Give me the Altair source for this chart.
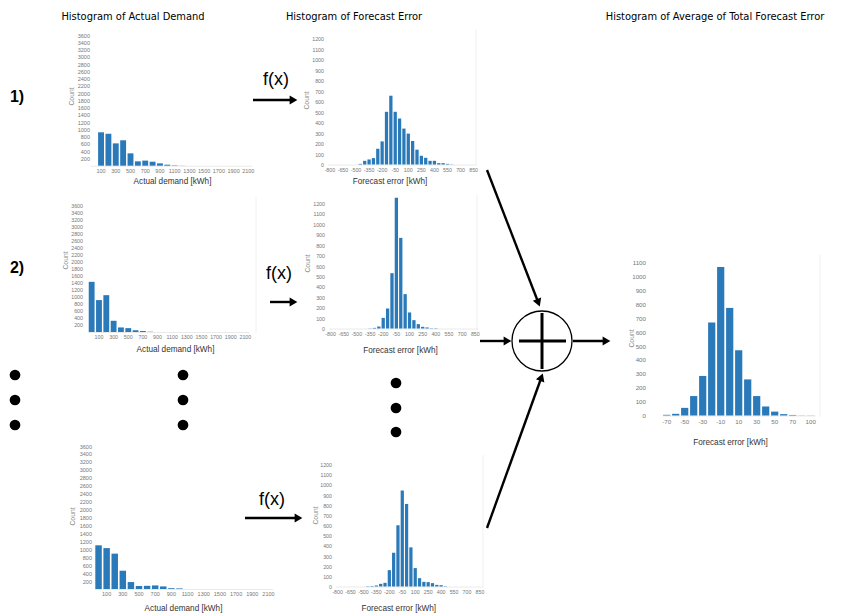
import math
import altair as alt
import pandas as pd

W, H, M = 825, 607, 8  # chart size and page margin

# ---------------- data ----------------
demand_bins = [0, 100, 200, 300, 400, 500, 600, 700, 800, 900, 1000,
               1100, 1200, 1300, 1400, 1500, 1600, 1700, 1800, 1900, 2000, 2100]
demand_row1 = [0, 920, 880, 615, 700, 340, 120, 140, 110, 64, 28,
               10, 3, 0, 0, 0, 0, 0, 0, 0, 0, 0]
demand_row2 = [1430, 910, 1050, 320, 130, 110, 50, 30, 10, 0, 0,
               0, 0, 0, 0, 0, 0, 0, 0, 0, 0, 0]
demand_row4 = [1100, 1030, 890, 460, 175, 75, 80, 90, 65, 20, 15,
               0, 0, 0, 0, 0, 0, 0, 0, 0, 0, 0]
demand_ticks_y = [200, 400, 600, 800, 1000, 1200, 1400, 1600, 1800, 2000,
                  2200, 2400, 2600, 2800, 3000, 3200, 3400, 3600]
demand_ticks_x = [100, 300, 500, 700, 900, 1100, 1300, 1500, 1700, 1900, 2100]

error_bins = [-800, -750, -700, -650, -600, -550, -500, -450, -400, -350, -300,
              -250, -200, -150, -100, -50, 0, 50, 100, 150, 200, 250, 300, 350,
              400, 450, 500, 550, 600, 650, 700, 750, 800, 850]
error_row1 = [0, 0, 0, 0, 0, 0, 0, 6, 35, 48, 61,
              150, 220, 502, 655, 502, 438, 342, 294, 224, 141, 83, 64, 35,
              35, 13, 13, 6, 2, 0, 0, 0, 0, 0]
error_row2 = [0, 0, 0, 0, 0, 0, 0, 0, 0, 2, 6,
              19, 102, 192, 531, 1255, 870, 330, 154, 80, 42, 16, 10, 3,
              3, 0, 0, 0, 0, 0, 0, 0, 0, 0]
error_row4 = [0, 0, 0, 0, 0, 0, 0, 3, 5, 10, 26,
              36, 161, 332, 602, 944, 812, 385, 181, 82, 46, 43, 33, 16,
              13, 3, 0, 0, 0, 0, 0, 0, 0, 0]
error_ticks_y = [0, 100, 200, 300, 400, 500, 600, 700, 800, 900, 1000, 1100, 1200]
error_ticks_x = [-800, -650, -500, -350, -200, -50, 100, 250, 400, 550, 700, 850]

total_bins = [-70, -60, -50, -40, -30, -20, -10, 0, 10, 20, 30, 40, 50, 60, 70, 80, 100]
total_vals = [5, 12, 55, 140, 285, 670, 1070, 775, 470, 260, 140, 65, 28, 10, 4, 1, 1]
total_ticks_y = [0, 100, 200, 300, 400, 500, 600, 700, 800, 900, 1000, 1100]
total_ticks_x = [-70, -50, -30, -10, 10, 30, 50, 70, 100]

column_titles = ["Histogram of Actual Demand", "Histogram of Forecast Error",
                 "Histogram of Average of Total Forecast Error"]
row_labels = ["1)", "2)"]
func_label = "f(x)"

# ---------------- layout (page pixel coordinates) ----------------
BAR = "#2a79b9"
LABEL_FONT = "Liberation Sans"
TITLE_FONT = "Liberation Sans Narrow, DejaVu Sans Condensed, Liberation Sans"

panels = [
    dict(cats=demand_bins, vals=demand_row1, xr=(90, 252), base=165.7, top=35, ymax=3600,
         yaxis=91, yt=demand_ticks_y, xt=demand_ticks_x, xtitle="Actual demand [kWh]",
         xtp=(172, 181.5), ytp=(71, 96), pad=0.2, lfs=5.5),
    dict(cats=demand_bins, vals=demand_row2, xr=(88, 249), base=332, top=205.7, ymax=3600,
         yaxis=84, yt=demand_ticks_y, xt=demand_ticks_x, xtitle="Actual demand [kWh]",
         xtp=(175, 349.5), ytp=(65, 260), pad=0.2, lfs=5.3),
    dict(cats=demand_bins, vals=demand_row4, xr=(94.5, 272.5), base=589, top=446, ymax=3600,
         yaxis=93, yt=demand_ticks_y, xt=demand_ticks_x, xtitle="Actual demand [kWh]",
         xtp=(183, 608), ytp=(72, 516), pad=0.2, lfs=5.5),
    dict(cats=error_bins, vals=error_row1, xr=(327.8, 475.7), base=164.5, top=38.5, ymax=1200,
         yaxis=325, yt=error_ticks_y, xt=error_ticks_x, xtitle="Forecast error [kWh]",
         xtp=(389.5, 181.7), ytp=(306.7, 100), pad=0.25, lfs=5.3),
    dict(cats=error_bins, vals=error_row2, xr=(328.5, 477.4), base=328.5, top=203.5, ymax=1200,
         yaxis=326, yt=error_ticks_y, xt=error_ticks_x, xtitle="Forecast error [kWh]",
         xtp=(400, 350), ytp=(307.3, 263), pad=0.25, lfs=5.3),
    dict(cats=error_bins, vals=error_row4, xr=(335.5, 482.0), base=586.5, top=464.5, ymax=1200,
         yaxis=333, yt=error_ticks_y, xt=error_ticks_x, xtitle="Forecast error [kWh]",
         xtp=(398.3, 608), ytp=(315, 515), pad=0.25, lfs=5.3),
    dict(cats=total_bins, vals=total_vals, xr=(662.2, 815.2), base=415.5, top=262.8, ymax=1100,
         yaxis=647, yt=total_ticks_y, xt=total_ticks_x, xtitle="Forecast error [kWh]",
         xtp=(730, 442.7), ytp=(631.7, 338), pad=0.2, lfs=6.2),
]


def hist_layer(p):
    df = pd.DataFrame({"bin": p["cats"], "count": p["vals"]})
    x0, x1 = p["xr"]
    xaxis = alt.Axis(
        orient="bottom", offset=p["base"] - M - H, values=p["xt"], ticks=False, tickSize=0,
        labelPadding=2.5, labelFontSize=p["lfs"], labelColor="#777", labelFont=LABEL_FONT,
        labelAngle=0, labelOverlap=False, domainColor="#e4e4e4", domainWidth=0.8, grid=False,
        title=p["xtitle"], titleX=p["xtp"][0] - M, titleY=p["xtp"][1] - p["base"],
        titleAlign="center", titleBaseline="middle", titleFontSize=8.2,
        titleFontWeight="normal", titleColor="#333", titleFont=LABEL_FONT,
    )
    yaxis = alt.Axis(
        orient="left", offset=-(p["yaxis"] - M), values=p["yt"], format="d",
        ticks=False, tickSize=0,
        labelPadding=1.5, labelFontSize=p["lfs"], labelColor="#777", labelFont=LABEL_FONT,
        labelOverlap=False, domain=False, grid=False,
        title="Count", titleX=p["ytp"][0] - p["yaxis"], titleY=p["ytp"][1] - M,
        titleAngle=270, titleAlign="center", titleBaseline="middle", titleFontSize=6.8,
        titleFontWeight="normal", titleColor="#888", titleFont=LABEL_FONT,
    )
    return alt.Chart(df).mark_bar(color=BAR).encode(
        x=alt.X("bin:O", scale=alt.Scale(domain=p["cats"], range=[x0 - M, x1 - M],
                                         paddingInner=p["pad"], paddingOuter=0.1),
                axis=xaxis),
        y=alt.Y("count:Q", scale=alt.Scale(domain=[0, p["ymax"]],
                                           range=[p["base"] - M, p["top"] - M],
                                           nice=False, zero=True),
                axis=yaxis),
    )


SX = alt.Scale(domain=[M, M + W], range=[0, W], nice=False, zero=False)
SY = alt.Scale(domain=[M, M + H], range=[0, H], nice=False, zero=False)


def ax(field):
    return alt.X(field, scale=SX, axis=None)


def ay(field):
    return alt.Y(field, scale=SY, axis=None)


# annotation geometry
titles_df = pd.DataFrame({"t": column_titles, "x": [133, 354, 715], "y": [17, 17, 17]})
rows_df = pd.DataFrame({"t": row_labels, "x": [17, 17], "y": [97, 268]})
fx_df = pd.DataFrame({"t": [func_label] * 3, "x": [276, 279, 272], "y": [80, 274, 500]})
dots_df = pd.DataFrame({
    "x": [15, 15, 15, 183, 183, 183, 396, 396, 396],
    "y": [375, 400, 425, 375, 400, 425, 383, 408, 432],
})
frames_df = pd.DataFrame({  # faint right-hand borders of the chart images
    "x0": [256, 476, 477, 483, 820],
    "y0": [197, 30, 195, 455, 255],
    "x1": [256, 476, 477, 483, 820],
    "y1": [333, 166, 330, 588, 417],
})
arrows = [  # (x start, y start, x tip, y tip)
    (253, 100, 298, 100),
    (270, 302, 298, 302),
    (245, 518, 303, 518),
    (487, 170, 540, 307),
    (487, 528, 543, 373),
    (480, 341, 512, 341),
    (573, 341, 611, 341),
]
HEAD = 4.5
shaft = {"x0": [], "y0": [], "x1": [], "y1": []}
heads = {"x": [], "y": [], "ang": []}
for (xs, ys, xt, yt) in arrows:
    L = math.hypot(xt - xs, yt - ys)
    ux, uy = (xt - xs) / L, (yt - ys) / L
    shaft["x0"].append(xs); shaft["y0"].append(ys)
    shaft["x1"].append(xt - ux * HEAD); shaft["y1"].append(yt - uy * HEAD)
    heads["x"].append(xt - ux * HEAD); heads["y"].append(yt - uy * HEAD)
    heads["ang"].append(math.degrees(math.atan2(ux, -uy)) % 360)
shaft_df = pd.DataFrame(shaft)
heads_df = pd.DataFrame(heads)

circle_df = pd.DataFrame({"x": [542], "y": [341]})
plus_df = pd.DataFrame({"x0": [519, 542], "y0": [341, 313], "x1": [566, 542], "y1": [341, 369]})

layers = [alt.Chart(frames_df).mark_rule(strokeWidth=0.8, color="#ececec").encode(
    x=ax("x0:Q"), y=ay("y0:Q"), x2="x1:Q", y2="y1:Q")]
layers += [hist_layer(p) for p in panels]

layers.append(alt.Chart(titles_df).mark_text(font=TITLE_FONT, fontSize=11, color="#000").encode(
    x=ax("x:Q"), y=ay("y:Q"), text="t:N"))
layers.append(alt.Chart(rows_df).mark_text(font=LABEL_FONT, fontSize=16, fontWeight="bold",
                                           color="#000").encode(
    x=ax("x:Q"), y=ay("y:Q"), text="t:N"))
layers.append(alt.Chart(fx_df).mark_text(font=LABEL_FONT, fontSize=18, color="#000").encode(
    x=ax("x:Q"), y=ay("y:Q"), text="t:N"))
layers.append(alt.Chart(dots_df).mark_circle(size=115, color="#000", opacity=1).encode(
    x=ax("x:Q"), y=ay("y:Q")))
layers.append(alt.Chart(shaft_df).mark_rule(strokeWidth=2.4, color="#000").encode(
    x=ax("x0:Q"), y=ay("y0:Q"), x2="x1:Q", y2="y1:Q"))
layers.append(alt.Chart(heads_df).mark_point(shape="triangle-up", filled=True, size=80,
                                             color="#000", opacity=1).encode(
    x=ax("x:Q"), y=ay("y:Q"), angle=alt.Angle("ang:Q", scale=None)))
layers.append(alt.Chart(circle_df).mark_circle(size=3600, color="white", stroke="#000",
                                               strokeWidth=1.3, opacity=1).encode(
    x=ax("x:Q"), y=ay("y:Q")))
layers.append(alt.Chart(plus_df).mark_rule(strokeWidth=3, color="#000").encode(
    x=ax("x0:Q"), y=ay("y0:Q"), x2="x1:Q", y2="y1:Q"))

chart = alt.layer(*layers).resolve_scale(
    x="independent", y="independent"
).resolve_axis(
    x="independent", y="independent"
).properties(
    width=W, height=H, padding=0, background="white",
    autosize=alt.AutoSizeParams(type="none"),
).configure_view(stroke=None)

chart.save("out.html", embed_options={"renderer": "svg", "actions": False})
